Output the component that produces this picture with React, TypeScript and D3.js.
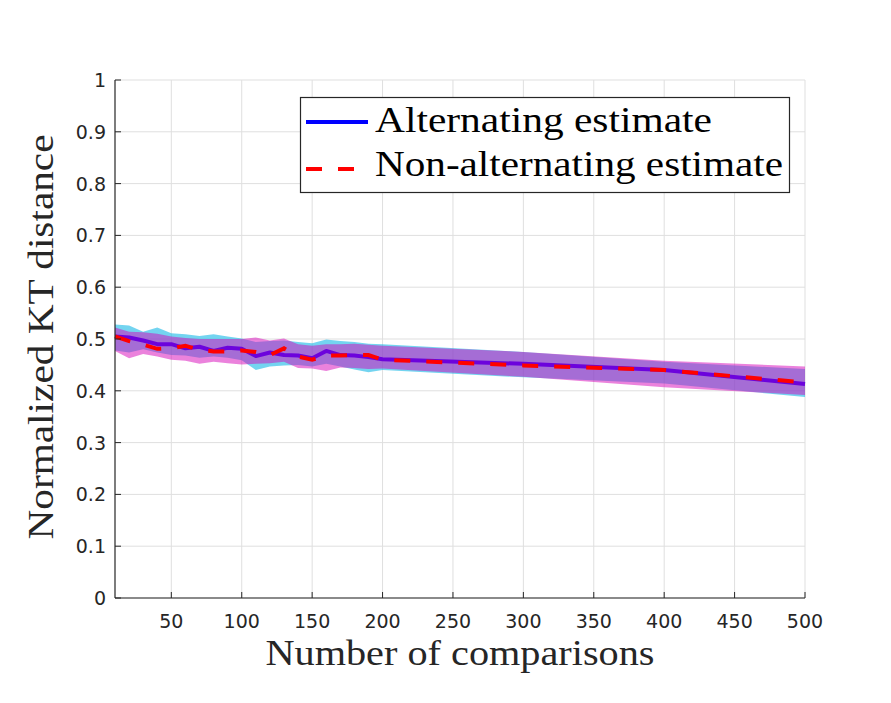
import React from "react";
import * as d3 from "d3";

const xs = [10, 20, 30, 40, 50, 60, 70, 80, 90, 100, 110, 120, 130, 140, 150, 160, 170, 180, 190, 200, 300, 400, 500];

const altMean = [0.505, 0.503, 0.497, 0.49, 0.49, 0.482, 0.485, 0.477, 0.483, 0.481, 0.467, 0.474, 0.469, 0.468, 0.463, 0.477, 0.469, 0.468, 0.465, 0.461, 0.452, 0.44, 0.413];
const altUpper = [0.528, 0.526, 0.514, 0.522, 0.511, 0.509, 0.506, 0.509, 0.505, 0.501, 0.494, 0.496, 0.497, 0.494, 0.492, 0.499, 0.496, 0.494, 0.491, 0.49, 0.475, 0.456, 0.442];
const altLower = [0.478, 0.474, 0.48, 0.474, 0.469, 0.468, 0.464, 0.466, 0.464, 0.459, 0.44, 0.447, 0.449, 0.45, 0.447, 0.452, 0.447, 0.441, 0.436, 0.44, 0.426, 0.414, 0.388];

const nonMean = [0.505, 0.496, 0.489, 0.481, 0.482, 0.487, 0.479, 0.476, 0.476, 0.478, 0.475, 0.469, 0.482, 0.466, 0.46, 0.468, 0.468, 0.469, 0.469, 0.46, 0.449, 0.44, 0.416];
const nonUpper = [0.522, 0.514, 0.513, 0.51, 0.505, 0.502, 0.5, 0.5, 0.5, 0.5, 0.503, 0.497, 0.501, 0.49, 0.487, 0.49, 0.49, 0.491, 0.489, 0.487, 0.475, 0.458, 0.447];
const nonLower = [0.477, 0.463, 0.471, 0.466, 0.46, 0.458, 0.452, 0.456, 0.453, 0.451, 0.452, 0.453, 0.456, 0.444, 0.443, 0.438, 0.445, 0.444, 0.442, 0.443, 0.427, 0.407, 0.392];

const xTicks = [50, 100, 150, 200, 250, 300, 350, 400, 450, 500];
const yTicks = [0, 0.1, 0.2, 0.3, 0.4, 0.5, 0.6, 0.7, 0.8, 0.9, 1];
const yTickLabels = ["0", "0.1", "0.2", "0.3", "0.4", "0.5", "0.6", "0.7", "0.8", "0.9", "1"];
const legendLabels = ["Alternating estimate", "Non-alternating estimate"];

export default function App() {
  const W = 891, H = 703;
  const left = 115, right = 805, top = 80, bottom = 598;
  const x = d3.scaleLinear().domain([10, 500]).range([left, right]);
  const y = d3.scaleLinear().domain([0, 1]).range([bottom, top]);

  const idx = xs.map((_, i) => i);
  const areaAlt = d3.area<number>().x((i) => x(xs[i])).y0((i) => y(altLower[i])).y1((i) => y(altUpper[i]));
  const areaNon = d3.area<number>().x((i) => x(xs[i])).y0((i) => y(nonLower[i])).y1((i) => y(nonUpper[i]));
  const lineAlt = d3.line<number>().x((i) => x(xs[i])).y((i) => y(altMean[i]));
  const lineNon = d3.line<number>().x((i) => x(xs[i])).y((i) => y(nonMean[i]));

  const axisColor = "#262626";
  const gridColor = "#dfdfdf";
  const serif = "'Liberation Serif', 'DejaVu Serif', serif";
  const sans = "'DejaVu Sans', sans-serif";

  return (
    <svg width={W} height={H} style={{ position: "absolute", left: 0, top: 0, background: "#fff" }}>
      <rect x={0} y={0} width={W} height={H} fill="#fff" />
      {/* grid */}
      {xTicks.map((t) => (
        <line key={"gx" + t} x1={x(t)} x2={x(t)} y1={top} y2={bottom} stroke={gridColor} strokeWidth={1} />
      ))}
      {yTicks.map((t) => (
        <line key={"gy" + t} x1={left} x2={right} y1={y(t)} y2={y(t)} stroke={gridColor} strokeWidth={1} />
      ))}

      {/* bands and lines */}
      <path d={areaAlt(idx) || ""} fill="rgb(22,183,230)" fillOpacity={0.6} stroke="none" />
      <path d={lineAlt(idx) || ""} fill="none" stroke="#0000ff" strokeWidth={4} strokeLinejoin="round" />
      <path d={areaNon(idx) || ""} fill="rgb(215,5,185)" fillOpacity={0.5} stroke="none" />
      <path d={lineNon(idx) || ""} fill="none" stroke="#ff0000" strokeWidth={4} strokeDasharray="16,16" />

      {/* axes */}
      <line x1={left} x2={left} y1={top} y2={bottom} stroke={axisColor} strokeWidth={1.2} />
      <line x1={left} x2={right} y1={bottom} y2={bottom} stroke={axisColor} strokeWidth={1.2} />
      {xTicks.map((t) => (
        <g key={"xt" + t}>
          <line x1={x(t)} x2={x(t)} y1={bottom} y2={bottom - 6} stroke={axisColor} strokeWidth={1} />
          <text x={x(t)} y={628} textAnchor="middle" fontFamily={sans} fontSize={19} fill={axisColor}>
            {t}
          </text>
        </g>
      ))}
      {yTicks.map((t, i) => (
        <g key={"yt" + t}>
          <line x1={left} x2={left + 6} y1={y(t)} y2={y(t)} stroke={axisColor} strokeWidth={1} />
          <text x={106} y={y(t) + 7} textAnchor="end" fontFamily={sans} fontSize={19} fill={axisColor}>
            {yTickLabels[i]}
          </text>
        </g>
      ))}

      {/* axis labels */}
      <text x={460} y={665} textAnchor="middle" fontFamily={serif} fontSize={36} fill={axisColor} textLength={389} lengthAdjust="spacingAndGlyphs">
        Number of comparisons
      </text>
      <text transform={`translate(53,337) rotate(-90)`} textAnchor="middle" fontFamily={serif} fontSize={36} fill={axisColor} textLength={405} lengthAdjust="spacingAndGlyphs">
        Normalized KT distance
      </text>

      {/* legend */}
      <rect x={300.5} y={97.5} width={489} height={95} fill="#fff" stroke={axisColor} strokeWidth={1.2} />
      <line x1={306} x2={368} y1={122} y2={122} stroke="#0000ff" strokeWidth={4} />
      <line x1={306} x2={368} y1={169} y2={169} stroke="#ff0000" strokeWidth={4} strokeDasharray="16,16" />
      <text x={375} y={132} fontFamily={serif} fontSize={36} fill="#000" textLength={337} lengthAdjust="spacingAndGlyphs">
        {legendLabels[0]}
      </text>
      <text x={375} y={176} fontFamily={serif} fontSize={36} fill="#000" textLength={408} lengthAdjust="spacingAndGlyphs">
        {legendLabels[1]}
      </text>
    </svg>
  );
}
